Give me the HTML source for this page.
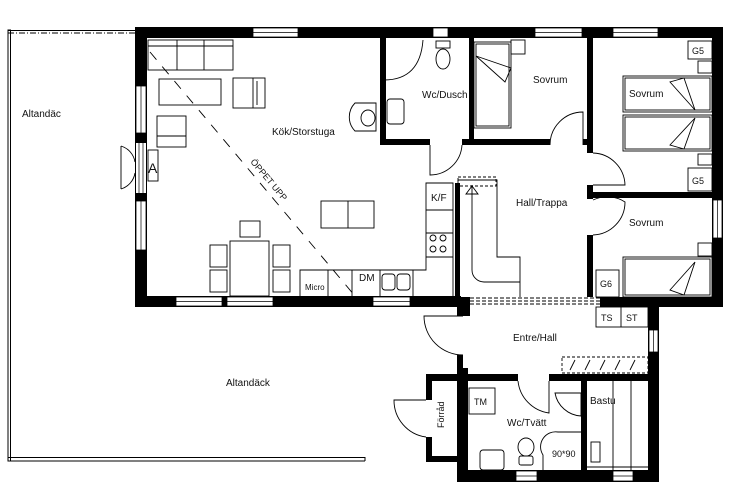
<!DOCTYPE html>
<html><head><meta charset="utf-8"><style>
html,body{margin:0;padding:0;background:#fff}
svg{display:block}
text{font-family:"Liberation Sans",sans-serif;fill:#111}
</style></head><body>
<svg width="737" height="502" viewBox="0 0 737 502" xmlns="http://www.w3.org/2000/svg">
<g fill="none" stroke="#000" stroke-width="1">
<rect x="8" y="30" width="2.5" height="431" fill="#fff"/>
<line x1="8" y1="30.5" x2="136" y2="30.5"/><line x1="8" y1="33" x2="136" y2="33" stroke-dasharray="6 2 1 2"/>
<line x1="8" y1="457.5" x2="365" y2="457.5"/><line x1="8" y1="461" x2="365" y2="461"/>
<line x1="365" y1="457" x2="365" y2="461"/>
<line x1="10.5" y1="30" x2="10.5" y2="461" stroke-dasharray="6 2 1 2"/>
</g>

<g fill="#000">
<rect x="135" y="27" width="588" height="11"/>
<rect x="135" y="27" width="12" height="280"/>
<rect x="135" y="296" width="326" height="11"/>
<rect x="712" y="27" width="11" height="280"/>
<rect x="600" y="297" width="123" height="10"/>
<rect x="457" y="297" width="13" height="19"/>
<rect x="648" y="297" width="11" height="185"/>
<rect x="457" y="470" width="202" height="12"/>
<rect x="457" y="368" width="11" height="114"/>
<rect x="457" y="355" width="6" height="13"/>
<rect x="457" y="374" width="61" height="7"/>
<rect x="549" y="374" width="110" height="7"/>
<rect x="426" y="374" width="42" height="7"/>
<rect x="426" y="374" width="6" height="26"/>
<rect x="426" y="437" width="6" height="25"/>
<rect x="426" y="456" width="42" height="6"/>
<rect x="581" y="381" width="6" height="90"/>
<rect x="380" y="38" width="6" height="107"/>
<rect x="380" y="139" width="50" height="6"/>
<rect x="462" y="139" width="88" height="6"/>
<rect x="469" y="38" width="5" height="107"/>
<rect x="587" y="38" width="6" height="115"/>
<rect x="587" y="185" width="6" height="14"/>
<rect x="587" y="235" width="6" height="62"/>
<rect x="583" y="139" width="10" height="6"/>
<rect x="587" y="192" width="126" height="6"/>
<rect x="455" y="183" width="5" height="114"/>
</g>

<g fill="#fff" stroke="#000" stroke-width="0.8">
<rect x="253" y="28" width="45" height="9"/>
<rect x="433" y="28" width="15" height="9"/>
<rect x="535" y="28" width="47" height="9"/>
<rect x="613" y="28" width="45" height="9"/>
<rect x="136" y="86" width="10" height="47"/>
<rect x="136" y="143" width="10" height="50" stroke="none"/>
<rect x="136" y="201" width="10" height="49"/>
<rect x="176" y="297" width="46" height="9"/>
<rect x="227" y="297" width="46" height="9"/>
<rect x="373" y="297" width="37" height="9"/>
<rect x="713" y="200" width="9" height="38"/>
<rect x="649" y="330" width="9" height="22"/>
<rect x="516" y="471" width="21" height="10"/>
<rect x="613" y="471" width="20" height="10"/>
</g>
<g stroke="#000" stroke-width="0.7">
<line x1="253" y1="32.5" x2="298" y2="32.5"/><line x1="535" y1="32.5" x2="582" y2="32.5"/><line x1="613" y1="32.5" x2="658" y2="32.5"/>
<line x1="141" y1="86" x2="141" y2="133"/><line x1="141" y1="201" x2="141" y2="250"/>
<line x1="176" y1="301.5" x2="222" y2="301.5"/><line x1="227" y1="301.5" x2="273" y2="301.5"/><line x1="373" y1="301.5" x2="410" y2="301.5"/>
<line x1="717.5" y1="200" x2="717.5" y2="238"/><line x1="653.5" y1="330" x2="653.5" y2="352"/>
<line x1="516" y1="476" x2="537" y2="476"/><line x1="613" y1="476" x2="633" y2="476"/>
<line x1="139" y1="143" x2="139" y2="193"/><line x1="143" y1="143" x2="143" y2="193"/>
</g>

<g stroke="#000" stroke-width="1" stroke-dasharray="4 2">
<line x1="470" y1="298" x2="600" y2="298"/><line x1="470" y1="301" x2="600" y2="301"/><line x1="470" y1="304" x2="600" y2="304"/>
</g>

<g fill="none" stroke="#000" stroke-width="0.9">
<rect x="148" y="40" width="85" height="30"/><line x1="148" y1="46" x2="233" y2="46"/>
<line x1="177" y1="40" x2="177" y2="70"/><line x1="204" y1="40" x2="204" y2="70"/>
<rect x="159" y="79" width="62" height="26"/>
<rect x="233" y="78" width="32" height="30"/><line x1="253" y1="78" x2="253" y2="108"/><line x1="257" y1="81" x2="257" y2="105"/>
<rect x="157" y="116" width="29" height="31"/><line x1="157" y1="136" x2="186" y2="136"/>
<rect x="148" y="150" width="10" height="31"/>
<line x1="150" y1="52" x2="355" y2="296" stroke-dasharray="10 9"/>
<rect x="230" y="241" width="39" height="55"/>
<rect x="240" y="221" width="20" height="16"/>
<rect x="210" y="245" width="17" height="22"/><rect x="210" y="270" width="17" height="22"/>
<rect x="273" y="245" width="17" height="22"/><rect x="273" y="270" width="17" height="22"/>
<rect x="321" y="201" width="53" height="27"/><line x1="348" y1="201" x2="348" y2="228"/>
<path d="M300 296 V270 H426 V183 H453 V296"/>
<line x1="426" y1="210" x2="453" y2="210"/>
<line x1="426" y1="233" x2="453" y2="233"/>
<line x1="426" y1="257" x2="453" y2="257"/>
<line x1="328" y1="270" x2="328" y2="296"/><line x1="352" y1="270" x2="352" y2="296"/><line x1="380" y1="270" x2="380" y2="296"/><line x1="413" y1="270" x2="413" y2="296"/>
<rect x="382" y="274" width="13" height="16" rx="3"/><rect x="397" y="274" width="13" height="16" rx="3"/>
<circle cx="433" cy="238" r="3"/><circle cx="443" cy="238" r="3"/><circle cx="433" cy="249" r="3"/><circle cx="443" cy="249" r="3"/>
<path d="M384 80 Q420 80 423 40"/>
<ellipse cx="443" cy="59" rx="7" ry="10"/><rect x="436" y="41" width="14" height="7"/>
<rect x="387" y="99" width="17" height="25" rx="3"/>
<path d="M376 103 H355 A20 20 0 0 0 355 131 H376 Z"/>
<ellipse cx="368" cy="118" rx="7" ry="8"/>
<path d="M430 145 V175 A32 32 0 0 0 462 145"/>
<path d="M550 145 A33 33 0 0 1 583 112 V145"/>
<path d="M593 153 A33 33 0 0 1 625 185 H593"/>
<path d="M593 200 A33 33 0 0 1 625 202 A33 33 0 0 1 593 235"/>
<path d="M463 316 H424 A39 39 0 0 0 463 355"/>
<path d="M518 381 A36 36 0 0 0 549 413 V381"/>
<path d="M555 393 A28 28 0 0 0 581 416 V393 Z"/>
<path d="M426 400 H394 A37 37 0 0 0 426 437"/>
<path d="M121 146 A20 20 0 0 1 135 162 M121 189 A20 20 0 0 0 135 173 M121 146 V189"/>
<path d="M458 180 H497 V257 H520 V297 M458 180 V297"/>
<rect x="458" y="177" width="38" height="9" stroke-dasharray="3 2"/>
<path d="M472 185 V270 A12 12 0 0 0 484 282 H520"/>
<path d="M466 194 L472 186 L478 194 Z"/>
<rect x="474" y="42" width="37" height="86"/><rect x="476" y="44" width="33" height="82"/>
<rect x="511" y="40" width="14" height="14"/>
<path d="M476 56 L511 68 L505 82 Z"/>
<rect x="623" y="76" width="89" height="36"/><rect x="625" y="78" width="85" height="32"/>
<rect x="623" y="115" width="89" height="36"/><rect x="625" y="117" width="85" height="32"/>
<path d="M670 82 L695 110 L684 78 Z"/><path d="M670 145 L695 118 L684 149 Z"/>
<rect x="688" y="41" width="24" height="18"/><rect x="698" y="61" width="14" height="12"/>
<rect x="688" y="168" width="24" height="23"/><rect x="698" y="154" width="14" height="11"/>
<rect x="623" y="257" width="89" height="40"/><rect x="625" y="259" width="85" height="36"/>
<path d="M670 290 L695 262 L684 295 Z"/>
<rect x="698" y="243" width="14" height="13"/>
<rect x="596" y="270" width="23" height="27"/>
<rect x="596" y="307" width="52" height="20"/><line x1="621" y1="307" x2="621" y2="327"/>
<rect x="562" y="357" width="86" height="16" stroke-dasharray="3 2"/>
<path d="M570 370 L575 360 M585 370 L590 360 M600 370 L605 360 M615 370 L620 360 M630 370 L635 360"/>
<rect x="469" y="388" width="26" height="26"/>
<rect x="480" y="450" width="24" height="20" rx="3"/>
<ellipse cx="526" cy="447" rx="8" ry="9"/><rect x="519" y="456" width="14" height="9" rx="2"/>
<path d="M543 470 V455 A15 15 0 0 1 558 432 H581"/>
<line x1="613" y1="381" x2="613" y2="470"/><line x1="631" y1="381" x2="631" y2="470"/>
<line x1="587" y1="467" x2="648" y2="467"/>
<rect x="591" y="442" width="9" height="20"/>
</g>

<g font-size="10">
<text x="22" y="117">Altandäc</text>
<text x="272" y="135">Kök/Storstuga</text>
<text x="422" y="98">Wc/Dusch</text>
<text x="533" y="83">Sovrum</text>
<text x="629" y="97">Sovrum</text>
<text x="516" y="206">Hall/Trappa</text>
<text x="629" y="226">Sovrum</text>
<text x="513" y="341">Entre/Hall</text>
<text x="226" y="386">Altandäck</text>
<text x="507" y="426">Wc/Tvätt</text>
<text x="590" y="404">Bastu</text>
<text x="552" y="457" font-size="9">90*90</text>
<text x="474" y="405" font-size="9">TM</text>
<text x="601" y="321" font-size="9">TS</text>
<text x="626" y="321" font-size="9">ST</text>
<text x="692" y="54" font-size="9">G5</text>
<text x="692" y="184" font-size="9">G5</text>
<text x="600" y="287" font-size="9">G6</text>
<text x="431" y="201" font-size="10">K/F</text>
<text x="359" y="281" font-size="10">DM</text>
<text x="305" y="290" font-size="8">Micro</text>
<text x="148" y="173" font-size="14">A</text>
<text x="0" y="0" font-size="9" transform="translate(444,428) rotate(-90)">Förråd</text>
<text x="0" y="0" font-size="9" transform="translate(250,162) rotate(50)">ÖPPET UPP</text>
</g>
</svg>
</body></html>
